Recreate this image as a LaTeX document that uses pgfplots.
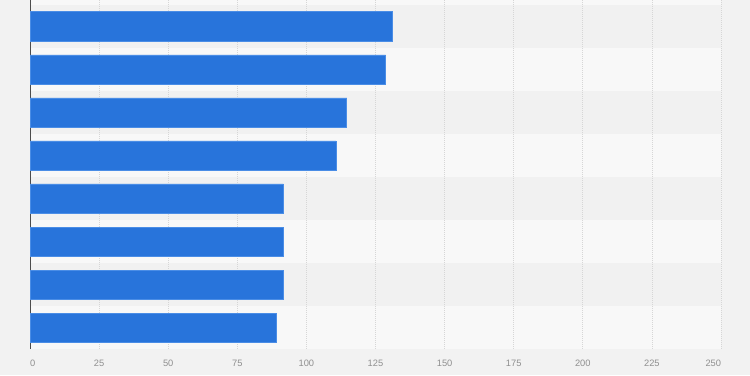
\documentclass[border=0pt]{standalone}
\usepackage{pgfplots}
\pgfplotsset{compat=1.18}
\usepackage{fontspec}
\setmainfont{Liberation Sans}
\definecolor{bgout}{HTML}{F2F2F2}
\definecolor{banddark}{HTML}{F1F1F1}
\definecolor{bandlight}{HTML}{F8F8F8}
\definecolor{barblue}{HTML}{2874DB}
\definecolor{baredge}{HTML}{4A8DE6}
\definecolor{ticklab}{HTML}{8F8F8F}
\definecolor{gridc}{HTML}{D6D6D6}
\pgfplotstableread{
pos value
1 130.9
2 128.7
3 114.6
4 110.7
5 91.7
6 91.7
7 91.7
8 89.0
}\datatable
\begin{document}
\begin{tikzpicture}[x=1pt,y=1pt]
\begin{axis}[
  set layers=standard,
  at={(30pt,26pt)}, anchor=south west,
  scale only axis,
  width=691pt, height=349pt,
  xmin=0, xmax=250,
  ymin=0.395, ymax=8.5,
  y dir=reverse,
  xtick={0,25,...,250},
  xticklabels={\hspace*{5.4pt}0,25,50,75,100,125,150,175,200,225,250\hspace*{15.4pt}},
  ytick=\empty,
  xmajorgrids,
  grid style={gridc, dash pattern=on 1pt off 1pt, line width=0.7pt},
  major tick length=0pt,
  axis x line*=bottom,
  axis y line*=left,
  x axis line style={draw=none},
  y axis line style={draw=black!70, line width=0.9pt},
  tick label style={font=\fontsize{9.3}{10}\selectfont, text=ticklab},
  xticklabel style={yshift=-7.5pt},
  clip=false,
]
\begin{pgfonlayer}{axis background}
\fill[bgout] (axis description cs:-0.04342,-0.0745) rectangle (axis description cs:1.04197,1);
\fill[bandlight] (axis description cs:0,0) rectangle (axis description cs:1,1);
\fill[banddark] (axis cs:0,0.5) rectangle (axis cs:250,1.5);
\fill[banddark] (axis cs:0,2.5) rectangle (axis cs:250,3.5);
\fill[banddark] (axis cs:0,4.5) rectangle (axis cs:250,5.5);
\fill[banddark] (axis cs:0,6.5) rectangle (axis cs:250,7.5);
\end{pgfonlayer}
\addplot[xbar, bar width=29.5pt, fill=barblue, draw=baredge, line width=0.6pt]
  table[x=value, y=pos] {\datatable};
\end{axis}
\end{tikzpicture}
\end{document}
